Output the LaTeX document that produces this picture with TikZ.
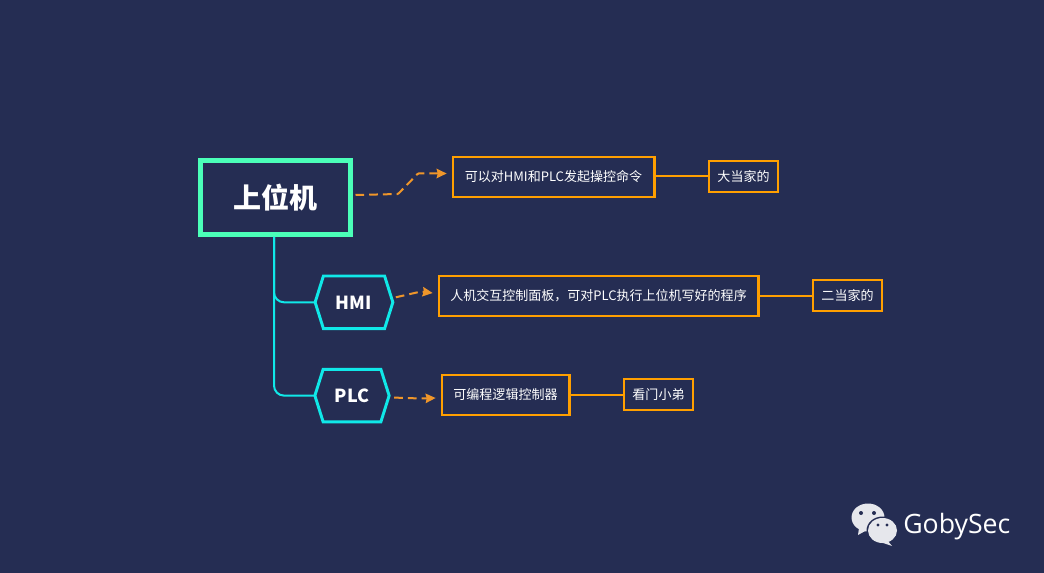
\documentclass[tikz,border=0pt]{standalone}
\usepackage{fontspec}
\setmainfont{Noto Sans CJK SC}
\newfontfamily\latinfont{Open Sans}
\usetikzlibrary{arrows.meta}
\definecolor{bgc}{RGB}{37,45,83}
\definecolor{rootc}{RGB}{75,255,184}
\definecolor{cyanc}{RGB}{16,232,232}
\definecolor{boxc}{RGB}{255,159,0}
\definecolor{dashc}{RGB}{240,150,42}
\definecolor{iconc}{RGB}{230,231,236}
\tikzset{
  x=0.75pt,y=-0.75pt,
  rootbox/.style={draw=rootc,line width=3.75pt,inner sep=0pt,minimum width=112.5pt,minimum height=55.5pt,text=white,font=\fontsize{21pt}{24pt}\selectfont\bfseries},
  hexbox/.style={inner sep=0pt,outer sep=0pt,minimum height=39.4pt,text=white,font=\fontsize{13.5pt}{16pt}\selectfont\bfseries},
  hexline/.style={draw=cyanc,line width=2.2pt,line join=miter},
  infobox/.style={draw=boxc,line width=1.75pt,inner sep=0pt,outer sep=0pt,minimum height=30.25pt,text=white,font=\fontsize{9.76pt}{12pt}\selectfont},
  tagbox/.style={draw=boxc,line width=1.75pt,inner sep=0pt,outer sep=0pt,minimum width=52pt,minimum height=23.5pt,text=white,font=\fontsize{9.76pt}{12pt}\selectfont},
  trunk/.style={draw=cyanc,line width=1.5pt,rounded corners=7.5pt},
  tie/.style={draw=boxc,line width=1.5pt},
  dashlink/.style={draw=dashc,line width=1.5pt,dash pattern=on 6.5pt off 3.8pt,rounded corners=0.5pt,-{Stealth[length=7.5pt,width=7pt,inset=0.8pt]}}
}
\begin{document}
\begin{tikzpicture}
\useasboundingbox (0,0) rectangle (1044,573);
\fill[bgc] (0,0) rectangle (1044,573);
% nodes
\node[rootbox] (root) at (275,197.5) {上位机};
\node[hexbox,minimum width=58.3pt] (hmi) at (354,302.3) {HMI};
\node[hexbox,minimum width=55.7pt] (plc) at (352,395.6) {PLC};
\node[infobox,minimum width=151.25pt] (a1) at (553.5,177) {可以对HMI和PLC发起操控命令};
\node[tagbox] (a2) at (743.5,176.5) {大当家的};
\node[infobox,minimum width=239.75pt] (b1) at (598.5,296) {人机交互控制面板，可对PLC执行上位机写好的程序};
\node[tagbox] (b2) at (847.5,295.5) {二当家的};
\node[infobox,minimum width=95.75pt] (c1) at (505.5,395) {可编程逻辑控制器};
\node[tagbox] (c2) at (658.5,394.5) {看门小弟};
% hexagon outlines
\draw[hexline] (hmi.west) -- ([xshift=6.2pt]hmi.north west) -- ([xshift=-6.2pt]hmi.north east) -- (hmi.east) -- ([xshift=-6.2pt]hmi.south east) -- ([xshift=6.2pt]hmi.south west) -- cycle;
\draw[hexline] (plc.west) -- ([xshift=6.2pt]plc.north west) -- ([xshift=-6.2pt]plc.north east) -- (plc.east) -- ([xshift=-6.2pt]plc.south east) -- ([xshift=6.2pt]plc.south west) -- cycle;
% trunk connectors
\coordinate (tr) at ([xshift=-0.75pt]root.south);
\draw[trunk] (tr) -- (tr |- hmi.west) -- (hmi.west);
\draw[trunk] (tr) -- (tr |- plc.west) -- (plc.west);
% dashed connectors
\coordinate (d1) at (398,194);
\coordinate (d2) at (418,173.5);
\draw[dashlink] ([shift={(3,-2.5)}]root.east) -- (d1) -- (d2) -- ([shift={(-6,-3.5)}]a1.west);
\coordinate (d3) at (421,291.5);
\draw[dashlink] ([shift={(3,-5)}]hmi.east) -- (d3) -- ([shift={(-6,-3)}]b1.west);
\coordinate (d4) at (421,398.5);
\draw[dashlink] ([shift={(5,2)}]plc.east) -- (d4) -- ([shift={(-6,3)}]c1.west);
% ties
\draw[tie] (a1.east |- a2.west) -- (a2.west);
\draw[tie] (b1.east |- b2.west) -- (b2.west);
\draw[tie] (c1.east |- c2.west) -- (c2.west);
% wechat mark
\fill[iconc] (868,517.5) ellipse [x radius=16.5,y radius=14];
\fill[iconc] (859,528) -- (858,535) -- (867,530) -- cycle;
\fill[bgc] (882.5,530.5) ellipse [x radius=16,y radius=14];
\fill[iconc] (882.5,530.5) ellipse [x radius=14.5,y radius=12.5];
\fill[iconc] (887,540) -- (892,546) -- (880,542) -- cycle;
\fill[bgc] (861,513) circle [radius=2] (874,513) circle [radius=2];
\fill[bgc] (878,525) circle [radius=1.6] (887,525) circle [radius=1.6];
\node[anchor=base west,inner sep=0pt,text=white,font=\latinfont\fontsize{20pt}{24pt}\selectfont] (gs) at (903,533) {GobySec};
\end{tikzpicture}
\end{document}
